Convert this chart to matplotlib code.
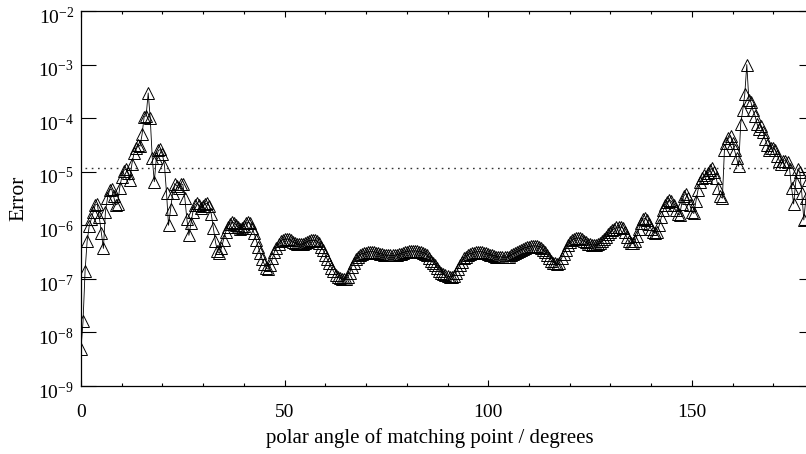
## Error of the matching-point solution vs polar angle (log scale)

import numpy as np
import matplotlib
matplotlib.use('Agg')
import matplotlib.pyplot as plt
from matplotlib.ticker import MultipleLocator, NullLocator
from matplotlib.transforms import ScaledTranslation

# error at each matching point, 0 to 180 degrees in steps of 0.5 (one row = 5 degrees)
error = [
    5.0e-9, 1.6e-8, 1.4e-7, 5.0e-7, 9.5e-7, 1.3e-6, 1.8e-6, 2.4e-6, 2.5e-6, 1.4e-6,          # 0
    7.1e-7, 3.7e-7, 1.8e-6, 3.2e-6, 4.5e-6, 4.8e-6, 3.5e-6, 2.4e-6, 2.5e-6, 5.0e-6,          # 5
    7.9e-6, 1.05e-5, 1.12e-5, 9.5e-6, 6.9e-6, 1.4e-5, 2.2e-5, 2.8e-5, 3.2e-5, 3.0e-5,        # 10
    5.0e-5, 1.05e-4, 1.12e-4, 2.95e-4, 1.0e-4, 1.8e-5, 6.5e-6, 1.8e-5, 2.5e-5, 2.6e-5,       # 15
    2.1e-5, 1.3e-5, 4.0e-6, 1.0e-6, 2.0e-6, 4.0e-6, 6.0e-6, 5.5e-6, 5.0e-6, 5.9e-6,          # 20
    5.8e-6, 3.2e-6, 1.3e-6, 6.5e-7, 1.1e-6, 1.8e-6, 2.4e-6, 2.6e-6, 2.4e-6, 2.1e-6,          # 25
    2.3e-6, 2.5e-6, 2.6e-6, 2.3e-6, 1.6e-6, 8.9e-7, 5.0e-7, 3.3e-7, 3.0e-7, 3.8e-7,          # 30
    5.4e-7, 7.4e-7, 9.3e-7, 1.07e-6, 1.15e-6, 1.12e-6, 1.02e-6, 9.3e-7, 8.7e-7, 8.9e-7,      # 35
    9.8e-7, 1.1e-6, 1.15e-6, 1.1e-6, 8.9e-7, 7.1e-7, 5.4e-7, 4.0e-7, 3.0e-7, 2.3e-7,         # 40
    1.9e-7, 1.6e-7, 1.5e-7, 1.8e-7, 2.4e-7, 3.2e-7, 3.8e-7, 4.5e-7, 5.0e-7, 5.4e-7,          # 45
    5.5e-7, 5.5e-7, 5.5e-7, 5.2e-7, 4.9e-7, 4.7e-7, 4.5e-7, 4.4e-7, 4.4e-7, 4.5e-7,          # 50
    4.7e-7, 4.9e-7, 5.1e-7, 5.2e-7, 5.2e-7, 5.2e-7, 5.0e-7, 4.6e-7, 4.0e-7, 3.4e-7,          # 55
    2.8e-7, 2.3e-7, 1.95e-7, 1.6e-7, 1.4e-7, 1.2e-7, 1.1e-7, 1.02e-7, 1.0e-7, 1.0e-7,        # 60
    1.0e-7, 1.07e-7, 1.3e-7, 1.7e-7, 2.0e-7, 2.3e-7, 2.6e-7, 2.8e-7, 2.95e-7, 3.0e-7,        # 65
    3.1e-7, 3.2e-7, 3.2e-7, 3.2e-7, 3.2e-7, 3.1e-7, 3.0e-7, 2.95e-7, 2.9e-7, 2.8e-7,         # 70
    2.75e-7, 2.75e-7, 2.75e-7, 2.75e-7, 2.75e-7, 2.8e-7, 2.9e-7, 2.95e-7, 3.1e-7, 3.2e-7,    # 75
    3.2e-7, 3.3e-7, 3.3e-7, 3.3e-7, 3.3e-7, 3.3e-7, 3.2e-7, 3.2e-7, 3.1e-7, 2.95e-7,         # 80
    2.8e-7, 2.5e-7, 2.2e-7, 2.0e-7, 1.8e-7, 1.6e-7, 1.4e-7, 1.3e-7, 1.23e-7, 1.17e-7,        # 85
    1.12e-7, 1.1e-7, 1.1e-7, 1.12e-7, 1.26e-7, 1.5e-7, 1.8e-7, 2.1e-7, 2.4e-7, 2.6e-7,       # 90
    2.8e-7, 2.95e-7, 3.0e-7, 3.1e-7, 3.2e-7, 3.2e-7, 3.2e-7, 3.2e-7, 3.1e-7, 3.0e-7,         # 95
    2.95e-7, 2.8e-7, 2.75e-7, 2.7e-7, 2.6e-7, 2.57e-7, 2.57e-7, 2.57e-7, 2.57e-7, 2.57e-7,   # 100
    2.6e-7, 2.75e-7, 2.9e-7, 3.0e-7, 3.2e-7, 3.3e-7, 3.5e-7, 3.6e-7, 3.8e-7, 3.9e-7,         # 105
    4.0e-7, 4.1e-7, 4.1e-7, 4.1e-7, 4.1e-7, 4.0e-7, 3.8e-7, 3.5e-7, 3.2e-7, 2.8e-7,          # 110
    2.5e-7, 2.2e-7, 2.0e-7, 1.95e-7, 1.9e-7, 2.0e-7, 2.4e-7, 2.95e-7, 3.5e-7, 4.2e-7,        # 115
    4.8e-7, 5.2e-7, 5.5e-7, 5.75e-7, 5.75e-7, 5.75e-7, 5.5e-7, 5.1e-7, 4.8e-7, 4.5e-7,       # 120
    4.4e-7, 4.3e-7, 4.3e-7, 4.3e-7, 4.4e-7, 4.6e-7, 5.0e-7, 5.5e-7, 6.0e-7, 6.8e-7,          # 125
    7.4e-7, 8.1e-7, 8.7e-7, 9.1e-7, 9.3e-7, 9.3e-7, 8.9e-7, 7.6e-7, 6.0e-7, 5.0e-7,          # 130
    4.7e-7, 4.7e-7, 5.0e-7, 6.3e-7, 8.5e-7, 1.12e-6, 1.3e-6, 1.35e-6, 1.26e-6, 1.05e-6,      # 135
    8.5e-7, 7.4e-7, 7.1e-7, 7.6e-7, 1.0e-6, 1.4e-6, 1.9e-6, 2.4e-6, 2.75e-6, 2.95e-6,        # 140
    2.8e-6, 2.4e-6, 1.9e-6, 1.6e-6, 1.55e-6, 2.5e-6, 3.5e-6, 3.9e-6, 3.3e-6, 2.4e-6,         # 145
    1.8e-6, 1.66e-6, 2.8e-6, 4.5e-6, 6.3e-6, 7.6e-6, 8.5e-6, 7.9e-6, 9.3e-6, 1.07e-5,        # 150
    1.15e-5, 1.0e-5, 7.6e-6, 5.0e-6, 3.5e-6, 3.2e-6, 2.5e-5, 3.5e-5, 4.2e-5, 4.7e-5,         # 155
    3.5e-5, 2.5e-5, 1.8e-5, 1.26e-5, 7.9e-5, 1.4e-4, 2.8e-4, 1.0e-3, 2.2e-4, 2.0e-4,         # 160
    1.4e-4, 1.12e-4, 7.9e-5, 6.3e-5, 7.1e-5, 5.6e-5, 4.0e-5, 3.2e-5, 2.5e-5, 2.8e-5,         # 165
    2.8e-5, 2.5e-5, 2.0e-5, 1.6e-5, 1.4e-5, 1.6e-5, 1.6e-5, 1.5e-5, 1.12e-5, 5.0e-6,         # 170
    2.5e-6, 6.3e-6, 1.12e-5, 1.0e-5, 4.0e-6, 1.26e-6, 3.2e-6, 7.1e-6, 1.0e-5, 7.9e-6,        # 175
    5.0e-6,                                                                                  # 180
]
angle = np.linspace(0, 180, len(error))   # matching points are evenly spaced

tolerance = 1.15e-5
tol_angles = [1, 180]

y_ticks = [1e-9, 1e-8, 1e-7, 1e-6, 1e-5, 1e-4, 1e-3, 1e-2]

plt.rcParams['font.family'] = 'Liberation Serif'
plt.rcParams['mathtext.fontset'] = 'custom'
plt.rcParams['mathtext.rm'] = 'Liberation Serif'
plt.rcParams['mathtext.it'] = 'Liberation Serif:italic'
plt.rcParams['lines.scale_dashes'] = False

fig = plt.figure(figsize=(8.06, 4.54), dpi=100)
# the right edge of the original plot is cut off, so the axes run past the figure
ax = fig.add_axes([81/806, 68/454, 733/806, 375/454])

ax.plot(angle, error, color='black', lw=0.6, marker='^', ms=8.3,
        mfc='none', mec='black', mew=0.7)
ax.plot(tol_angles, [tolerance, tolerance], color='#333333', lw=1.0,
        linestyle=(0, (1.2, 3.3)))

ax.set_yscale('log')
ax.set_ylim(1e-9, 1e-2)
ax.set_xlim(0, 180)
ax.set_yticks(y_ticks)

ax.xaxis.set_major_locator(MultipleLocator(50))
ax.xaxis.set_minor_locator(MultipleLocator(10))
ax.yaxis.set_minor_locator(NullLocator())

ax.tick_params(axis='x', which='major', direction='in', length=4.3, width=0.8,
               top=True, pad=13, labelsize=14)
ax.tick_params(axis='x', which='minor', direction='in', length=2.0, width=0.8, top=True)
ax.tick_params(axis='y', which='major', direction='in', length=10.8, width=0.8,
               right=True, pad=5, labelsize=14)
for sp in ax.spines.values():
    sp.set_linewidth(0.9)

# y tick labels sit a little below their ticks in the original
shift = ScaledTranslation(0, -3 / 72, fig.dpi_scale_trans)
for lab in ax.get_yticklabels():
    lab.set_transform(lab.get_transform() + shift)

ax.set_xlabel('polar angle of matching point / degrees', fontsize=15)
ax.set_ylabel('Error', fontsize=15.5)
ax.xaxis.set_label_coords((430 - 81) / 733, -0.112)
ax.yaxis.set_label_coords(-0.072, 0.5)

fig.savefig('out.png', dpi=100)
